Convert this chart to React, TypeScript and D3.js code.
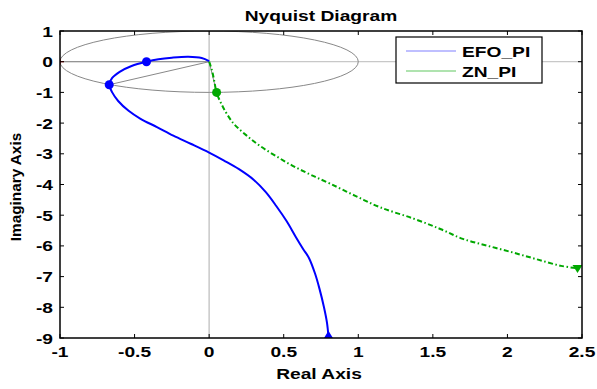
import React from "react";
import * as d3 from "d3";

const xTicks = [-1, -0.5, 0, 0.5, 1, 1.5, 2, 2.5];
const yTicks = [1, 0, -1, -2, -3, -4, -5, -6, -7, -8, -9];

const efoRe = [0.0, -0.05, -0.14, -0.25, -0.34, -0.42, -0.52, -0.6, -0.65, -0.67, -0.65, -0.61, -0.54, -0.46, -0.35, -0.24, -0.12, 0.0, 0.1, 0.2, 0.3, 0.38, 0.45, 0.52, 0.58, 0.63, 0.67, 0.71, 0.74, 0.77, 0.79, 0.8];
const efoIm = [0.02, 0.12, 0.16, 0.13, 0.08, 0.0, -0.14, -0.33, -0.53, -0.75, -1.0, -1.28, -1.6, -1.86, -2.13, -2.41, -2.68, -2.96, -3.22, -3.5, -3.85, -4.25, -4.7, -5.2, -5.7, -6.1, -6.4, -6.9, -7.4, -8.0, -8.5, -8.95];

const znRe = [0, 0.02, 0.035, 0.05, 0.09, 0.16, 0.25, 0.34, 0.45, 0.56, 0.68, 0.81, 0.98, 1.15, 1.37, 1.55, 1.7, 1.87, 2.04, 2.2, 2.36, 2.49];
const znIm = [0, -0.3, -0.65, -1.0, -1.45, -1.99, -2.4, -2.74, -3.08, -3.39, -3.68, -3.97, -4.37, -4.75, -5.11, -5.45, -5.77, -6.0, -6.22, -6.44, -6.65, -6.74];

const efoMarkers = [[-0.42, 0.0], [-0.67, -0.75]];
const znMarkers = [[0.05, -1.0]];
const efoArrow = [0.8, -8.93];
const znArrow = [2.47, -6.72];

const W = 597, H = 389;
const L = 60, R = 582, T = 31, B = 338;
const FONT = "'Liberation Sans', Arial, sans-serif";
const SX = 1.28;

export default function App() {
  const x = d3.scaleLinear().domain([-1, 2.5]).range([L, R]);
  const y = d3.scaleLinear().domain([-9, 1]).range([B, T]);
  const line = d3.line<[number, number]>().x(d => x(d[0])).y(d => y(d[1])).curve(d3.curveCatmullRom.alpha(0.5));
  const efo = efoRe.map((v, i) => [v, efoIm[i]] as [number, number]);
  const zn = znRe.map((v, i) => [v, znIm[i]] as [number, number]);
  const rx = x(1) - x(0), ry = y(0) - y(1);
  const tri = (cx: number, cy: number, up: boolean) => {
    const s = 5;
    return up
      ? `M${cx},${cy - s} L${cx + s},${cy + s * 0.6} L${cx - s},${cy + s * 0.6} Z`
      : `M${cx - s},${cy - s * 0.6} L${cx + s},${cy - s * 0.6} L${cx},${cy + s} Z`;
  };
  const txt = (tx: number, ty: number, s: string, anchor: string, size: number) => (
    <text transform={`translate(${tx},${ty}) scale(${SX},1)`} textAnchor={anchor} fontFamily={FONT} fontWeight="bold" fontSize={size} fill="#000">{s}</text>
  );
  return (
    <svg width={W} height={H} style={{ position: "absolute", left: 0, top: 0, background: "#fff" }}>
      <defs>
        <clipPath id="pc"><rect x={L} y={T} width={R - L} height={B - T} /></clipPath>
      </defs>
      <rect x={0} y={0} width={W} height={H} fill="#fff" />
      <g clipPath="url(#pc)">
        <line x1={x(0)} x2={x(0)} y1={T} y2={B} stroke="#c8c8c8" strokeWidth={1.5} />
        <line x1={L} x2={R} y1={y(0)} y2={y(0)} stroke="#c8c8c8" strokeWidth={1.2} />
        <line x1={x(-1)} x2={x(0)} y1={y(0)} y2={y(0)} stroke="#888" strokeWidth={1} />
        <ellipse cx={x(0)} cy={y(0)} rx={rx} ry={ry} fill="none" stroke="#888" strokeWidth={1} />
        <line x1={x(0)} y1={y(0)} x2={x(efoMarkers[1][0])} y2={y(efoMarkers[1][1])} stroke="#888" strokeWidth={1} />
        <line x1={x(0)} y1={y(0)} x2={x(znMarkers[0][0])} y2={y(znMarkers[0][1])} stroke="#888" strokeWidth={1} />
        <path d={line(efo) || ""} fill="none" stroke="#0000ff" strokeWidth={2} />
        <path d={line(zn) || ""} fill="none" stroke="#00a800" strokeWidth={2} strokeDasharray="5,2.5,1.5,2.5" />
        {efoMarkers.map((m, i) => <circle key={i} cx={x(m[0])} cy={y(m[1])} r={4.5} fill="#0000ff" />)}
        {znMarkers.map((m, i) => <circle key={i} cx={x(m[0])} cy={y(m[1])} r={4.5} fill="#00a800" />)}
        <path d={tri(x(efoArrow[0]), y(efoArrow[1]), true)} fill="#0000ff" />
        <path d={tri(x(znArrow[0]), y(znArrow[1]), false)} fill="#00a800" />
        <line x1={x(-1) - 4} x2={x(-1) + 4} y1={y(0)} y2={y(0)} stroke="#ff0000" strokeWidth={1} />
        <line x1={x(-1)} x2={x(-1)} y1={y(0) - 3} y2={y(0) + 3} stroke="#ff0000" strokeWidth={1} />
      </g>
      <rect x={L} y={T} width={R - L} height={B - T} fill="none" stroke="#000" strokeWidth={1.5} />
      {xTicks.map((t, i) => (
        <g key={"xt" + i}>
          <line x1={x(t)} x2={x(t)} y1={B} y2={B - 4} stroke="#000" />
          <line x1={x(t)} x2={x(t)} y1={T} y2={T + 4} stroke="#000" />
          {txt(x(t), 357, String(t), "middle", 15)}
        </g>
      ))}
      {yTicks.map((t, i) => (
        <g key={"yt" + i}>
          <line x1={L} x2={L + 4} y1={y(t)} y2={y(t)} stroke="#000" />
          <line x1={R} x2={R - 4} y1={y(t)} y2={y(t)} stroke="#000" />
          {txt(53, y(t) + 5.5, String(t), "end", 15)}
        </g>
      ))}
      {txt(321, 21, "Nyquist Diagram", "middle", 15)}
      {txt(319, 379, "Real Axis", "middle", 15)}
      <text transform={`translate(21,187) rotate(-90)`} textAnchor="middle" fontFamily={FONT} fontWeight="bold" fontSize={15.3}>Imaginary Axis</text>
      <rect x={396} y={37} width={146} height={46} fill="#fff" stroke="#000" strokeWidth={1.2} />
      <line x1={406} x2={456} y1={51} y2={51} stroke="#8080ff" strokeWidth={1.2} />
      <line x1={406} x2={456} y1={71} y2={71} stroke="#60c860" strokeWidth={1.2} />
      {txt(462, 56.5, "EFO_PI", "start", 15)}
      {txt(462, 76.5, "ZN_PI", "start", 15)}
    </svg>
  );
}
